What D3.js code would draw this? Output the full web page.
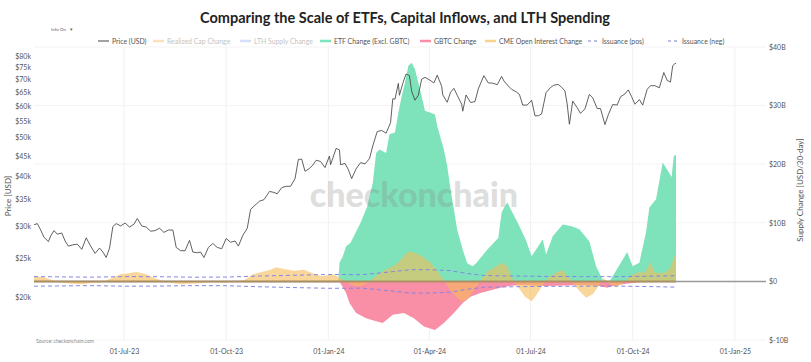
<!DOCTYPE html>
<html><head><meta charset="utf-8">
<script src="https://cdn.jsdelivr.net/npm/d3@7"></script>
<style>body{margin:0;background:#fff}svg{display:block;font-family:Lato,"Open Sans",sans-serif}</style>
</head><body><svg id="c" width="811" height="362"></svg>
<script>
// ---------------- DATA ----------------
const priceDates = ["2023-04-11","2023-04-14","2023-04-17","2023-04-20","2023-04-24","2023-04-26","2023-04-29","2023-05-02","2023-05-06","2023-05-09","2023-05-12","2023-05-16","2023-05-20","2023-05-24","2023-05-28","2023-06-01","2023-06-05","2023-06-09","2023-06-12","2023-06-15","2023-06-18","2023-06-21","2023-06-24","2023-06-28","2023-07-02","2023-07-06","2023-07-10","2023-07-13","2023-07-17","2023-07-21","2023-07-25","2023-07-29","2023-08-02","2023-08-06","2023-08-10","2023-08-14","2023-08-17","2023-08-21","2023-08-25","2023-08-29","2023-09-01","2023-09-05","2023-09-08","2023-09-11","2023-09-15","2023-09-19","2023-09-23","2023-09-27","2023-10-01","2023-10-05","2023-10-09","2023-10-12","2023-10-16","2023-10-20","2023-10-23","2023-10-27","2023-10-31","2023-11-04","2023-11-09","2023-11-13","2023-11-16","2023-11-20","2023-11-24","2023-11-28","2023-12-02","2023-12-05","2023-12-08","2023-12-11","2023-12-15","2023-12-18","2023-12-21","2023-12-25","2023-12-29","2024-01-02","2024-01-03","2024-01-08","2024-01-11","2024-01-12","2024-01-16","2024-01-19","2024-01-22","2024-01-26","2024-01-30","2024-02-03","2024-02-07","2024-02-10","2024-02-14","2024-02-18","2024-02-22","2024-02-26","2024-02-28","2024-03-01","2024-03-04","2024-03-05","2024-03-08","2024-03-11","2024-03-14","2024-03-16","2024-03-19","2024-03-22","2024-03-25","2024-03-28","2024-04-01","2024-04-05","2024-04-08","2024-04-12","2024-04-13","2024-04-17","2024-04-20","2024-04-23","2024-04-26","2024-04-30","2024-05-01","2024-05-04","2024-05-08","2024-05-12","2024-05-15","2024-05-20","2024-05-24","2024-05-28","2024-06-01","2024-06-05","2024-06-07","2024-06-11","2024-06-14","2024-06-18","2024-06-21","2024-06-24","2024-06-28","2024-07-02","2024-07-05","2024-07-08","2024-07-11","2024-07-15","2024-07-19","2024-07-22","2024-07-26","2024-07-29","2024-08-01","2024-08-03","2024-08-05","2024-08-08","2024-08-12","2024-08-15","2024-08-19","2024-08-23","2024-08-26","2024-08-30","2024-09-02","2024-09-06","2024-09-09","2024-09-13","2024-09-17","2024-09-20","2024-09-24","2024-09-27","2024-09-30","2024-10-03","2024-10-07","2024-10-10","2024-10-14","2024-10-17","2024-10-21","2024-10-25","2024-10-29","2024-11-01","2024-11-04","2024-11-06","2024-11-08","2024-11-09"];
const priceValues = [30300,30500,29400,28200,27500,28400,29300,28700,28900,27600,26800,27000,27100,26300,28100,26800,25700,26500,25900,25100,26500,30000,30500,30100,30600,29900,30400,31400,30100,29900,29200,29300,29700,29000,29400,29400,26600,26100,26100,27700,25900,25800,25900,25100,26600,27200,26600,26400,28000,27400,27600,26800,28500,29700,33100,33900,34700,35000,36700,36500,36200,37500,37800,37800,39500,44100,44200,41200,41900,42700,43900,43600,42100,45000,42800,47000,46600,42800,43100,41600,39500,41800,43300,43000,44300,47700,51800,52100,51300,54500,62500,62400,68300,63800,68300,72100,71400,65300,62000,63800,70000,70700,69700,68500,71600,67200,63900,61300,64900,66400,63800,60600,58200,63900,61200,61500,66200,71400,68500,68400,67800,71100,69300,67300,66000,65100,64100,60300,60300,62000,56700,56700,57300,64800,66700,67600,67900,66800,65400,60700,54000,61700,59400,57500,59000,64100,62900,59100,59100,53900,57000,60500,60300,63200,64300,65800,63300,60600,62200,60300,66000,67400,67400,66600,72700,69500,68800,75600,76500,76700];

// ETF Change (Excl. GBTC), USD billions per 30 days
const etfDates = ["2023-04-11","2024-01-10","2024-01-11","2024-01-14","2024-01-17","2024-01-21","2024-01-30","2024-02-05","2024-02-10","2024-02-13","2024-02-16","2024-02-22","2024-02-25","2024-03-01","2024-03-04","2024-03-07","2024-03-10","2024-03-13","2024-03-16","2024-03-19","2024-03-22","2024-03-25","2024-03-28","2024-04-02","2024-04-06","2024-04-08","2024-04-14","2024-04-17","2024-04-20","2024-04-23","2024-04-26","2024-05-01","2024-05-05","2024-05-10","2024-05-13","2024-05-23","2024-06-02","2024-06-05","2024-06-10","2024-06-14","2024-06-21","2024-06-27","2024-07-02","2024-07-08","2024-07-12","2024-07-15","2024-07-21","2024-07-30","2024-08-07","2024-08-14","2024-08-23","2024-08-29","2024-09-04","2024-09-10","2024-09-15","2024-09-26","2024-10-01","2024-10-07","2024-10-13","2024-10-16","2024-10-22","2024-10-28","2024-11-01","2024-11-05","2024-11-07","2024-11-09"];
const etfValues = [0,0,3.2,4.3,6.0,6.6,10.0,12.8,16.8,21.9,22.5,21.9,25.1,25.4,28.8,31.6,33.9,36.8,37.3,36.2,33.9,31.6,29.1,28.8,28.5,26.5,22.5,19.7,15.7,12.3,8.8,5.4,3.1,2.6,3.1,5.4,7.4,11.8,13.5,12.0,9.4,7.0,4.3,6.0,7.2,4.6,7.7,9.7,9.4,8.9,6.8,2.6,0.3,0.0,1.5,5.0,2.6,3.2,8.4,12.6,14.0,20.3,19.1,17.8,21.4,21.6];

// GBTC Change, USD billions per 30 days
const gbtcDates = ["2023-04-11","2024-01-10","2024-01-11","2024-01-17","2024-01-20","2024-01-26","2024-02-04","2024-02-13","2024-02-19","2024-02-28","2024-03-09","2024-03-18","2024-03-27","2024-04-06","2024-04-14","2024-04-23","2024-05-01","2024-05-08","2024-05-17","2024-05-29","2024-06-04","2024-06-12","2024-06-22","2024-07-02","2024-07-15","2024-08-01","2024-08-15","2024-09-01","2024-09-08","2024-09-15","2024-09-25","2024-10-05","2024-10-13","2024-11-09"];
const gbtcValues = [0,0,0,-2.0,-3.7,-5.4,-6.3,-6.8,-7.1,-5.7,-5.4,-6.3,-7.7,-8.3,-7.1,-5.4,-3.7,-2.6,-2.0,-1.4,-1.1,-0.8,-0.6,-0.7,-0.8,-0.7,-0.6,-0.8,-1.1,-0.7,-0.4,-0.2,0,0];

// CME Open Interest Change, USD billions per 30 days
const cmeDates = ["2023-04-11","2023-04-20","2023-04-28","2023-05-05","2023-05-15","2023-05-25","2023-06-05","2023-06-12","2023-06-20","2023-06-28","2023-07-05","2023-07-12","2023-07-20","2023-07-28","2023-08-05","2023-08-15","2023-08-22","2023-08-30","2023-09-08","2023-09-18","2023-09-28","2023-10-08","2023-10-18","2023-10-25","2023-11-02","2023-11-10","2023-11-15","2023-11-22","2023-12-01","2023-12-10","2023-12-18","2023-12-26","2024-01-05","2024-01-12","2024-01-20","2024-01-28","2024-02-05","2024-02-12","2024-02-20","2024-02-28","2024-03-05","2024-03-10","2024-03-14","2024-03-20","2024-03-26","2024-04-02","2024-04-08","2024-04-14","2024-04-20","2024-04-26","2024-05-01","2024-05-06","2024-05-12","2024-05-18","2024-05-24","2024-05-30","2024-06-05","2024-06-10","2024-06-15","2024-06-20","2024-06-26","2024-07-02","2024-07-06","2024-07-12","2024-07-18","2024-07-25","2024-07-30","2024-08-05","2024-08-12","2024-08-20","2024-08-26","2024-09-01","2024-09-05","2024-09-10","2024-09-16","2024-09-22","2024-09-28","2024-10-05","2024-10-12","2024-10-17","2024-10-21","2024-10-28","2024-11-03","2024-11-07","2024-11-09"];
const cmeValues = [0.9,0.7,0.2,-0.2,-0.4,-0.5,-0.2,-0.1,0.6,1.2,1.4,1.6,1.3,0.6,0.1,-0.3,-0.5,-0.4,-0.3,-0.1,-0.2,-0.1,0.3,1.2,1.6,2.0,2.4,2.1,1.8,2.0,1.4,0.9,1.2,0.6,-0.4,-0.9,-0.3,0.8,1.8,2.6,3.4,4.6,5.1,4.8,4.2,3.2,1.8,0.2,-1.5,-2.8,-3.5,-2.8,-1.2,0.4,1.8,2.4,3.2,2.6,0.4,-1.0,-2.6,-3.4,-2.4,-0.6,0.8,1.6,1.9,0.6,-1.2,-2.8,-2.2,-0.6,0.6,-0.4,-1.0,-0.4,0.8,1.5,1.5,3.2,1.5,1.4,2.0,4.0,5.1];

// Issuance (30-day, USD billions)
const issuanceDates = ["2023-04-11","2023-05-01","2023-06-01","2023-07-01","2023-08-01","2023-09-01","2023-10-01","2023-11-01","2023-12-01","2024-01-01","2024-02-01","2024-03-01","2024-03-15","2024-04-01","2024-04-19","2024-05-05","2024-05-20","2024-06-15","2024-07-15","2024-08-15","2024-09-15","2024-10-15","2024-11-09"];
const issuancePos = [0.82,0.78,0.72,0.82,0.80,0.72,0.74,0.92,1.05,1.18,1.15,1.70,2.00,2.00,1.85,1.35,1.00,0.92,0.85,0.82,0.80,0.88,0.98];
const issuanceNeg = [-0.82,-0.78,-0.72,-0.82,-0.80,-0.72,-0.74,-0.92,-1.05,-1.18,-1.15,-1.70,-2.00,-2.00,-1.85,-1.35,-1.00,-0.92,-0.85,-0.82,-0.80,-0.88,-0.98];

const xTickDates = ["2023-07-01","2023-10-01","2024-01-01","2024-04-01","2024-07-01","2024-10-01","2025-01-01"];
const priceTicks = [20000,25000,30000,35000,40000,45000,50000,55000,60000,65000,70000,75000,80000];
const supplyTicks = [-10,0,10,20,30,40];
const legendLabels = ["Price (USD)","Realized Cap Change","LTH Supply Change","ETF Change (Excl. GBTC)","GBTC Change","CME Open Interest Change","Issuance (pos)","Issuance (neg)"];

// ---------------- CHART ----------------
const parse = d3.utcParse("%Y-%m-%d");
const W = 811, H = 362;
const M = {left:34, right:766, top:47, bottom:340};
const svg = d3.select("#c");
svg.append("rect").attr("width",W).attr("height",H).attr("fill","#fff");

const x = d3.scaleUtc().domain([parse("2023-04-11"), parse("2025-01-29")]).range([M.left, M.right]);
const yL = d3.scaleLog().domain([15620, 84200]).range([M.bottom, M.top]);
const yR = d3.scaleLinear().domain([-10, 40]).range([M.bottom, M.top]);

const zip = (ds, vs) => ds.map((d,i)=>({date:parse(d), v:vs[i]}));
const price = zip(priceDates, priceValues);
const etf = zip(etfDates, etfValues);
const gbtc = zip(gbtcDates, gbtcValues);
const cme = zip(cmeDates, cmeValues);
const issP = zip(issuanceDates, issuancePos);
const issN = zip(issuanceDates, issuanceNeg);

// gridlines
const grid = svg.append("g");
grid.selectAll("line.v").data(xTickDates.map(parse)).join("line")
  .attr("x1",d=>x(d)).attr("x2",d=>x(d)).attr("y1",M.top).attr("y2",M.bottom)
  .attr("stroke","#f1f1f1").attr("stroke-width",1);
grid.selectAll("line.h").data(supplyTicks.filter(t=>t!==0)).join("line")
  .attr("x1",M.left).attr("x2",M.right).attr("y1",d=>yR(d)).attr("y2",d=>yR(d))
  .attr("stroke","#f3f3f3").attr("stroke-width",1);

// zero line
svg.append("line").attr("x1",M.left).attr("x2",M.right).attr("y1",yR(0)).attr("y2",yR(0))
  .attr("stroke","#999").attr("stroke-width",1.5);

const area = d3.area().x(d=>x(d.date)).y0(yR(0)).y1(d=>yR(d.v));
svg.append("path").datum(etf).attr("d",area).attr("fill","#7ee3bb");
svg.append("path").datum(gbtc).attr("d",area).attr("fill","#f98fa6");
svg.append("path").datum(cme).attr("d",area).attr("fill","rgba(245,188,88,0.6)");

// baseline trace along the data extent
svg.append("line").attr("x1",x(price[0].date)).attr("x2",x(price[price.length-1].date))
  .attr("y1",yR(0)).attr("y2",yR(0)).attr("stroke","#a88a5e").attr("stroke-width",2).attr("opacity",0.85);

const ln = d3.line().x(d=>x(d.date)).y(d=>yR(d.v));
[issP, issN].forEach(s=>{
  svg.append("path").datum(s).attr("d",ln).attr("fill","none")
    .attr("stroke","#8585e6").attr("stroke-width",1).attr("stroke-dasharray","4,3");
});

// watermark
svg.append("text").attr("x",414).attr("y",207).attr("text-anchor","middle")
  .attr("font-size",34).attr("font-weight",900).attr("fill","#8a8a8a").attr("opacity",0.28)
  .text("checkonchain");

// price
const pl = d3.line().x(d=>x(d.date)).y(d=>yL(d.v));
svg.append("path").datum(price).attr("d",pl).attr("fill","none")
  .attr("stroke","#444").attr("stroke-width",0.85);

// axes
const tickStyle = g => { g.select(".domain").remove(); g.selectAll("line").remove();
  g.selectAll("text").attr("fill","#555").attr("font-size",7).attr("font-family","Lato, sans-serif"); };
svg.append("g").attr("transform",`translate(0,${M.bottom})`)
  .call(d3.axisBottom(x).tickValues(xTickDates.map(parse)).tickFormat(d3.utcFormat("%d-%b-%y")).tickSize(0).tickPadding(9))
  .call(tickStyle);
svg.append("g").attr("transform",`translate(${M.left},0)`)
  .call(d3.axisLeft(yL).tickValues(priceTicks).tickFormat(d=>"$"+(d/1000)+"k").tickSize(0).tickPadding(3))
  .call(tickStyle);
svg.append("g").attr("transform",`translate(${M.right},0)`)
  .call(d3.axisRight(yR).tickValues(supplyTicks).tickFormat(d=>d===0?"$0":"$"+d+"B").tickSize(0).tickPadding(3))
  .call(tickStyle);

// axis titles
svg.append("text").attr("transform","translate(11,196) rotate(-90)").attr("text-anchor","middle")
  .attr("font-size",8).attr("fill","#555").text("Price [USD]");
svg.append("text").attr("transform","translate(803,190) rotate(-90)").attr("text-anchor","middle")
  .attr("font-size",8).attr("fill","#555").text("Supply Change [USD/30-day]");

// title
svg.append("text").attr("x",405).attr("y",23).attr("text-anchor","middle")
  .attr("font-size",14.5).attr("font-weight",700).attr("fill","#222")
  .text("Comparing the Scale of ETFs, Capital Inflows, and LTH Spending");

// info dropdown
svg.append("text").attr("x",51).attr("y",31).attr("font-size",4.5).attr("fill","#666").text("Info On");
svg.append("text").attr("x",70).attr("y",31).attr("font-size",4.5).attr("fill","#666").text("▾");

// source
svg.append("text").attr("x",36).attr("y",343).attr("font-size",5).attr("fill","#888").text("Source: checkonchain.com");

// legend (layout positions of each entry)
const legendStyle = [
  {kind:"line", color:"#444", faded:false},
  {kind:"swatch", color:"#f6cf8f", faded:true},
  {kind:"swatch", color:"#b6cdf3", faded:true},
  {kind:"swatch", color:"#7ee3bb", faded:false},
  {kind:"swatch", color:"#f98fa6", faded:false},
  {kind:"swatch", color:"#f8d38f", faded:false},
  {kind:"dash", color:"#7c7cc8", faded:false},
  {kind:"dash", color:"#7c7cc8", faded:false}
];
const legendX = [98,153,240,320,420,485,588,668];
const lg = svg.append("g");
const ly = 41;
legendLabels.forEach((lab,i)=>{
  const st = legendStyle[i], lx = legendX[i];
  const m = lg.append("line").attr("x1",lx).attr("x2",lx+11).attr("y1",ly).attr("y2",ly).attr("stroke",st.color);
  if (st.kind==="line") m.attr("stroke-width",1);
  else if (st.kind==="swatch") m.attr("stroke-width",2.5).attr("opacity",st.faded?0.6:1);
  else m.attr("stroke-width",1).attr("stroke-dasharray","3,3");
  lg.append("text").attr("x",lx+14).attr("y",ly+2.5).attr("font-size",6.9)
    .attr("fill",st.faded?"#c4c4c4":"#555").text(lab);
});
</script></body></html>
